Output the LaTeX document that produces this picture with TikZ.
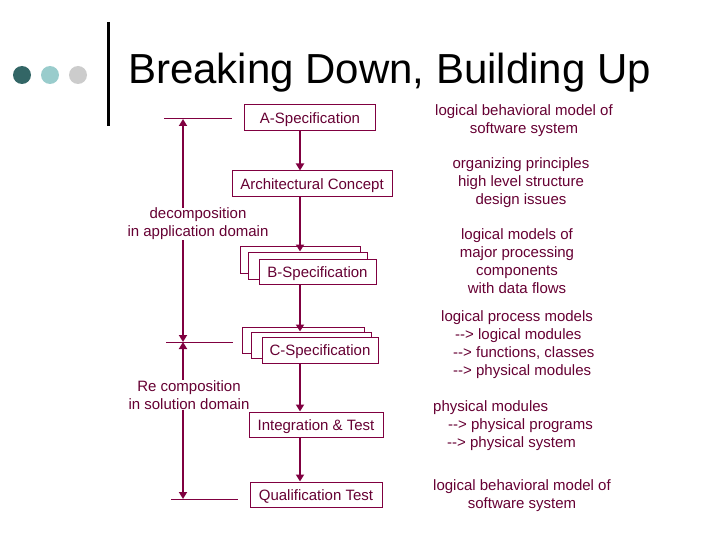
\documentclass[tikz,border=0pt]{standalone}
\usepackage{fontspec}
\setmainfont{Liberation Sans}
\usetikzlibrary{arrows.meta}
\definecolor{mline}{RGB}{128,0,64}
\definecolor{mtext}{RGB}{102,0,51}
\definecolor{dotA}{RGB}{51,102,102}
\definecolor{dotB}{RGB}{153,204,204}
\definecolor{dotC}{RGB}{204,204,204}
\newcommand\myarrowtxt{-\kern0pt-\kern0pt>}
\begin{document}
\begin{tikzpicture}[x=1pt,y=-1pt,
 box/.style={draw=mline,line width=1pt,fill=white,text=mtext,font=\fontsize{15}{18}\selectfont,inner sep=0pt,minimum height=26pt,text height=12pt,text depth=1pt},
 flow/.style={draw=mline,line width=2pt,-{Triangle[length=7pt,width=8pt]}},
 span/.style={draw=mline,line width=2pt,{Triangle[length=7pt,width=8pt]}-{Triangle[length=7pt,width=8pt]}},
 rule/.style={draw=mline,line width=1pt},
 note/.style={text=mtext,font=\fontsize{15}{18}\selectfont,inner sep=0pt,align=center},
 dot/.style={circle,minimum size=18pt,inner sep=0pt}]
\useasboundingbox (0,0) rectangle (720,540);
% header
\node[dot,fill=dotA] (d1) at (22,75) {};
\node[dot,fill=dotB] (d2) at (50,75) {};
\node[dot,fill=dotC] (d3) at (78,75) {};
\draw[line width=3pt] (108,22) -- (108,126);
\node[anchor=base west,font=\fontsize{42}{48}\selectfont,inner sep=0pt] (title) at (128,84) {Breaking Down, Building Up};
% boxes
\node[box,minimum width=131pt] (A) at (310,118) {A-Specification};
\node[box,minimum width=160pt] (Arch) at (312,184) {Architectural Concept};
\node[box,minimum width=120pt,minimum height=27pt] (Bb) at (300,259.5) {};
\node[box,minimum width=119pt,minimum height=27pt] (Bm) at (307.5,265.5) {};
\node[box,minimum width=117pt,minimum height=25pt] (B) at (317.5,271.5) {B-Specification};
\node[box,minimum width=122pt] (Cb) at (303,340) {};
\node[box,minimum width=120pt] (Cm) at (311,345) {};
\node[box,minimum width=116pt] (C) at (320,350) {C-Specification};
\node[box,minimum width=134pt,minimum height=25pt] (I) at (316,424.5) {Integration \& Test};
\node[box,minimum width=132pt,minimum height=25pt] (Q) at (316,494.5) {Qualification Test};
% spine arrows
\coordinate (sp) at (300,0);
\draw[flow] (A.south -| sp) -- (Arch.north -| sp);
\draw[flow] (Arch.south -| sp) -- (Bm.north -| sp);
\draw[flow] (B.south -| sp) -- (Cm.north -| sp);
\draw[flow] (C.south -| sp) -- (I.north -| sp);
\draw[flow] (I.south -| sp) -- (Q.north -| sp);
% left bracket
\coordinate (t1) at (183,119);
\coordinate (t2) at (183,342);
\coordinate (t3) at (183,499);
\coordinate (h1l) at (164,119); \coordinate (h1r) at (232,119);
\coordinate (h2l) at (166,342); \coordinate (h2r) at (233,342);
\coordinate (h3l) at (171,499); \coordinate (h3r) at (238,499);
\draw[rule] (h1l) -- (h1r);
\draw[rule] (h2l) -- (h2r);
\draw[rule] (h3l) -- (h3r);
\draw[span] (t1) -- (t2);
\draw[span] (t2) -- (t3);
\node[note,fill=white] (dec) at (198,224) {decomposition\\in application domain};
\node[note,fill=white] (rec) at (189,395) {Re composition\\in solution domain};
% right notes
\node[note] (n1) at (524,121) {logical behavioral model of\\software system};
\node[note] (n2) at (521,183) {organizing principles\\high level structure\\design issues};
\node[note] (n3) at (517,261) {logical models of\\major processing\\components\\with data flows};
\node[note,align=left,anchor=west] (n4) at (441,345) {logical process models\\\hspace*{14pt}\myarrowtxt{} logical modules\\\hspace*{12pt}\myarrowtxt{} functions, classes\\\hspace*{12pt}\myarrowtxt{} physical modules};
\node[note,align=left,anchor=west] (n5) at (433,426) {physical modules\\\hspace*{15pt}\myarrowtxt{} physical programs\\\hspace*{14pt}\myarrowtxt{} physical system};
\node[note] (n6) at (522,496) {logical behavioral model of\\software system};
\end{tikzpicture}
\end{document}
